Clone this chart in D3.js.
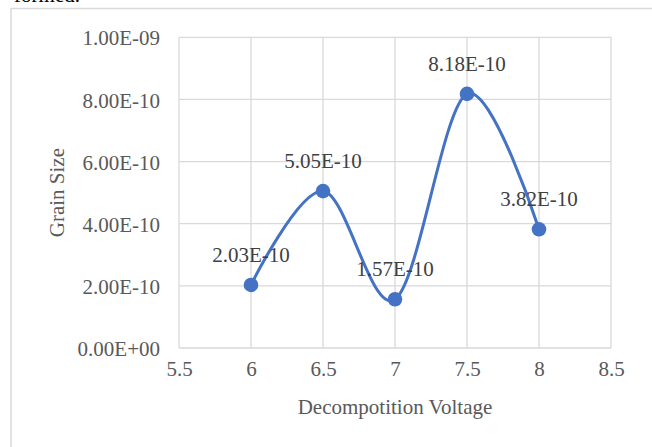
<!DOCTYPE html>
<html>
<head>
<meta charset="utf-8">
<script src="https://cdn.jsdelivr.net/npm/d3@7"></script>
<style>
  html, body { margin: 0; padding: 0; background: #fff; }
  svg { display: block; }
</style>
</head>
<body>
<svg id="chart" width="652" height="447"></svg>
<script>
// Grain size measured at each decomposition voltage
const voltages = [6, 6.5, 7, 7.5, 8];
const grainSizes = [2.03e-10, 5.05e-10, 1.57e-10, 8.18e-10, 3.82e-10];
const xTicks = [5.5, 6, 6.5, 7, 7.5, 8, 8.5];
const yTicks = [0, 2e-10, 4e-10, 6e-10, 8e-10, 1e-9];
const xTitle = "Decompotition Voltage";
const yTitle = "Grain Size";

const FONT = "'Liberation Serif', 'Times New Roman', serif";
const LINE = "#4472C4";
const GRID = "#d9d9d9";

// Scientific notation in the spreadsheet style: 8.00E-10, 0.00E+00
function sci(v) {
  if (v === 0) return "0.00E+00";
  const [m, e] = v.toExponential(2).split("e");
  const n = parseInt(e, 10);
  const sign = n < 0 ? "-" : "+";
  return m + "E" + sign + String(Math.abs(n)).padStart(2, "0");
}

const svg = d3.select("#chart");

// Tail of the paragraph above the chart
svg.append("text")
  .attr("x", 80).attr("y", 2)
  .attr("text-anchor", "end")
  .attr("font-family", FONT).attr("font-size", 21)
  .attr("fill", "#000")
  .text("formed.");

// Chart frame
svg.append("path")
  .attr("d", "M11,447 L11,8.5 L652,8.5")
  .attr("fill", "none").attr("stroke", GRID).attr("stroke-width", 1.5);

const x = d3.scaleLinear().domain([5.5, 8.5]).range([179, 611]);
const y = d3.scaleLinear().domain([0, 1e-9]).range([348, 37.3]);

// Gridlines
svg.append("g").selectAll("line.h").data(yTicks).join("line")
  .attr("x1", x(5.5)).attr("x2", x(8.5))
  .attr("y1", d => y(d)).attr("y2", d => y(d))
  .attr("stroke", GRID).attr("stroke-width", 1.3);
svg.append("g").selectAll("line.v").data(xTicks).join("line")
  .attr("x1", d => x(d)).attr("x2", d => x(d))
  .attr("y1", y(0)).attr("y2", y(1e-9))
  .attr("stroke", GRID).attr("stroke-width", 1.3);

// Axis labels via d3 axes (lines hidden, gridlines drawn above)
const yAxis = svg.append("g")
  .attr("transform", `translate(${x(5.5)},0)`)
  .call(d3.axisLeft(y).tickValues(yTicks).tickFormat(sci).tickSize(0).tickPadding(19));
const xAxis = svg.append("g")
  .attr("transform", `translate(0,${y(0)})`)
  .call(d3.axisBottom(x).tickValues(xTicks).tickFormat(d3.format("")).tickSize(0).tickPadding(12));
[yAxis, xAxis].forEach(a => {
  a.select(".domain").remove();
  a.selectAll("text")
    .attr("font-family", FONT).attr("font-size", 21).attr("fill", "#595959");
});
yAxis.selectAll("text").attr("dy", "0.36em");
xAxis.selectAll("text").attr("dy", "0.75em");

// Axis titles
svg.append("text")
  .attr("x", (x(5.5) + x(8.5)) / 2).attr("y", 414)
  .attr("text-anchor", "middle")
  .attr("font-family", FONT).attr("font-size", 21).attr("fill", "#595959")
  .text(xTitle);
svg.append("text")
  .attr("transform", `translate(64,${(y(0) + y(1e-9)) / 2}) rotate(-90)`)
  .attr("text-anchor", "middle")
  .attr("font-family", FONT).attr("font-size", 21).attr("fill", "#595959")
  .text(yTitle);

// Smoothed series line
const pts = voltages.map((v, i) => [v, grainSizes[i]]);
const line = d3.line()
  .x(d => x(d[0])).y(d => y(d[1]))
  .curve(d3.curveCardinal.tension(0));
svg.append("path")
  .attr("d", line(pts))
  .attr("fill", "none").attr("stroke", LINE)
  .attr("stroke-width", 3).attr("stroke-linecap", "round");

// Markers
svg.append("g").selectAll("circle").data(pts).join("circle")
  .attr("cx", d => x(d[0])).attr("cy", d => y(d[1]))
  .attr("r", 7.3).attr("fill", LINE);

// Data labels
svg.append("g").selectAll("text").data(pts).join("text")
  .attr("x", d => x(d[0])).attr("y", d => y(d[1]) - 23)
  .attr("text-anchor", "middle")
  .attr("font-family", FONT).attr("font-size", 21).attr("fill", "#404040")
  .text(d => sci(d[1]));
</script>
</body>
</html>
